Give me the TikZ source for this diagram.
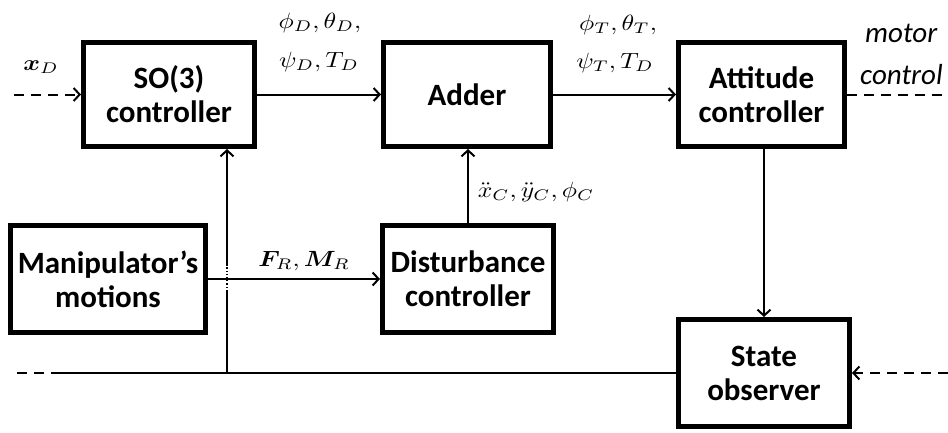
\documentclass[tikz,border=0pt]{standalone}
\usepackage{amsmath,bm}
\usepackage{graphicx}
\usepackage{fontspec}
\setmainfont{Carlito}
\usetikzlibrary{arrows.meta,calc}
\newcommand{\mathlbl}[1]{\scalebox{2.55}[2.2]{$#1$}}
\begin{document}
\begin{tikzpicture}[x=1pt,y=-1pt,
  blk/.style={draw,line width=5pt,minimum height=104pt,inner sep=0pt,align=center,
    font=\fontsize{31}{34}\selectfont\bfseries},
  conn/.style={line width=2pt},
  tip/.style={-{Straight Barb[length=6pt,width=13pt,line width=2pt]}},
  arr/.style={conn,tip},
  dsh/.style={conn,dash pattern=on 10pt off 7pt},
  lbl/.style={inner sep=0pt},
  itl/.style={font=\fontsize{29}{32}\selectfont\itshape,inner sep=0pt,anchor=west}
]
\useasboundingbox (0,0) rectangle (948,432);
% boxes
\node[blk,minimum width=171pt] (so3) at (169,94.5) {SO(3)\\controller};
\node[blk,minimum width=167pt] (add) at (467,94.5) {Adder};
\node[blk,minimum width=166pt] (att) at (761.5,94.5) {Attitude\\controller};
\node[blk,minimum width=195pt,minimum height=107pt] (man) at (108,279) {Manipulator’s\\motions};
\node[blk,minimum width=171pt,minimum height=107pt] (dist) at (468,279) {Disturbance\\controller};
\node[blk,minimum width=171pt,minimum height=107pt] (obs) at (764,373) {State\\observer};
% coordinates
\coordinate (xin) at (14,94.5);
\coordinate (mout) at (948,94.5);
\coordinate (lend) at (61,373);
\coordinate (lfar) at (14,373);
\coordinate (j) at (227,373);
\coordinate (c1) at (227,291);
\coordinate (c2) at (227,266);
\coordinate (rin) at (948,373);
% connectors
\draw[dsh,tip] (xin) -- (so3.west);
\draw[arr] (so3) -- (add);
\draw[arr] (add) -- (att);
\draw[dsh] (att.east) -- (mout);
\draw[arr] (att.south -| obs.north) -- (obs.north);
\draw[arr] (dist.north) -- (dist.north |- add.south);
\draw[arr] (man) -- (dist);
\draw[conn] (obs.west) -- (lend);
\draw[dsh] (lend) -- (lfar);
\draw[conn] (j) -- (c1);
\draw[line width=1.2pt,dotted] (c1) -- (c2);
\draw[arr] (c2) -- (c2 |- so3.south);
\draw[dsh,tip] (rin) -- (obs.east);
% labels
\node[lbl] (lxd) at (41,67) {\mathlbl{\bm{x}_D}};
\node[lbl] (l1a) at (320,23) {\mathlbl{\phi_D,\theta_D,}};
\node[lbl] (l1b) at (319,62) {\mathlbl{\psi_D,T_D}};
\node[lbl] (l2a) at (618,25) {\mathlbl{\phi_T,\theta_T,}};
\node[lbl] (l2b) at (615,63) {\mathlbl{\psi_T,T_D}};
\node[lbl] (l3) at (536,192) {\mathlbl{\ddot{x}_C,\ddot{y}_C,\phi_C}};
\node[lbl] (l4) at (304,261) {\mathlbl{\bm{F}_R,\bm{M}_R}};
\node[itl] (mot) at (865,33) {motor};
\node[itl] (ctl) at (860,75) {control};
\end{tikzpicture}
\end{document}
